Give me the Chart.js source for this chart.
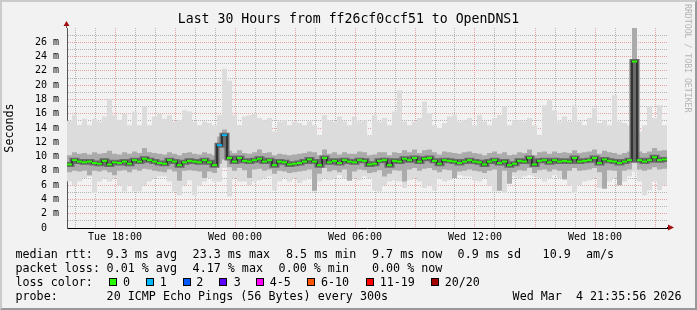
<!DOCTYPE html>
<html>
<head>
<meta charset="utf-8">
<script src="https://cdn.jsdelivr.net/npm/chart.js@4.4.1/dist/chart.umd.min.js"></script>
<style>
  html, body { margin: 0; padding: 0; background: #f2f2f2; }
  #wrap { position: relative; width: 697px; height: 310px; overflow: hidden; font-family: 'DejaVu Sans Mono', monospace; color: #000; }
  #frame { position: absolute; left: 0; top: 0; width: 697px; height: 310px; box-sizing: border-box; border: 2px solid; border-color: #cbcbcb #999 #999 #cbcbcb; pointer-events: none; }
  canvas { position: absolute; left: 0; top: 0; }
  #title { position: absolute; left: 0; top: 11px; width: 697px; text-align: center; font-size: 13.2px; line-height: 16px; white-space: pre; }
  #credit { position: absolute; left: 683px; top: 4px; writing-mode: vertical-rl; font-size: 8.2px; color: #b4b4b4; white-space: pre; }
  .t { position: absolute; white-space: pre; font-size: 11.7px; line-height: 14px; }
  .sq { position: absolute; width: 6px; height: 6px; border: 1px solid #000; top: 278px; }
</style>
</head>
<body>
<div id="wrap">
  <canvas id="chart" width="697" height="310"></canvas>
  <div id="title">Last 30 Hours from ff26cf0ccf51 to OpenDNS1</div>
  <div id="credit">RRDTOOL / TOBI OETIKER</div>

  <div class="t" style="left:15.5px;top:247px">median rtt:</div>
  <div class="t" style="left:106.6px;top:247px">9.3 ms avg</div>
  <div class="t" style="left:192.6px;top:247px">23.3 ms max</div>
  <div class="t" style="left:286px;top:247px">8.5 ms min</div>
  <div class="t" style="left:372px;top:247px">9.7 ms now</div>
  <div class="t" style="left:457.6px;top:247px">0.9 ms sd</div>
  <div class="t" style="left:542.6px;top:247px">10.9</div>
  <div class="t" style="left:586px;top:247px">am/s</div>

  <div class="t" style="left:15.5px;top:261px">packet loss:</div>
  <div class="t" style="left:106.6px;top:261px">0.01 % avg</div>
  <div class="t" style="left:192.6px;top:261px">4.17 % max</div>
  <div class="t" style="left:278.6px;top:261px">0.00 % min</div>
  <div class="t" style="left:372px;top:261px">0.00 % now</div>

  <div class="t" style="left:15.5px;top:275px">loss color:</div>
  <div id="lossLegend"></div>

  <div class="t" style="left:15.5px;top:289px">probe:</div>
  <div class="t" style="left:106.6px;top:289px">20 ICMP Echo Pings (56 Bytes) every 300s</div>
  <div class="t" style="left:512.6px;top:289px">Wed Mar  4 21:35:56 2026</div>

  <div id="frame"></div>
</div>
<script>
// time axis in hours since Tue 00:00, one value per 15 minutes
const startHour = 15.6;   // Tue 15:36
const endHour = 45.6;     // Wed 21:36
const stepHours = 0.25;

const medianMs = [
  8.9, 9.5, 9.3, 9.2, 9.3, 9.1, 9.0, 9.4, 8.9, 9.2, 9.1, 9.3, 9.0, 9.5, 9.3, 9.7, 9.5, 9.3, 9.1, 9.0,
  9.5, 9.3, 8.8, 9.2, 9.4, 9.3, 9.2, 9.5, 9.2, 8.8, 11.6, 13.0, 9.8, 9.3, 9.8, 9.4, 9.3, 9.5, 9.7, 9.3,
  9.5, 8.8, 9.3, 9.2, 8.9, 9.0, 9.1, 9.3, 9.6, 9.3, 8.8, 9.8, 9.2, 9.4, 9.1, 9.5, 9.3, 9.2, 9.5, 9.4,
  8.9, 9.0, 9.4, 9.5, 8.8, 9.4, 9.3, 9.7, 9.5, 9.8, 9.3, 9.7, 9.8, 9.4, 9.0, 9.5, 9.4, 9.3, 9.1, 9.3,
  9.5, 9.3, 9.2, 8.9, 9.3, 9.5, 9.1, 9.3, 8.8, 9.0, 9.4, 9.3, 9.8, 8.9, 9.4, 9.5, 9.2, 9.5, 9.3, 9.4,
  9.3, 9.8, 9.3, 9.4, 9.5, 9.8, 9.1, 9.6, 9.4, 9.3, 9.1, 9.3, 9.5, 23.3, 9.5, 9.3, 9.5, 9.9, 9.5, 9.6
];

// outer smoke (slowest / fastest ping)
const smokeMaxMs = [
  15.0, 15.8, 14.4, 15.3, 14.4, 15.3, 14.9, 15.6, 18.1, 15.8, 15.1, 16.0, 14.4, 16.3, 14.4, 17.0, 14.4, 15.6, 16.0, 15.3,
  15.8, 14.9, 15.1, 16.5, 16.3, 14.9, 14.4, 14.9, 14.7, 14.4, 15.8, 22.3, 20.6, 15.8, 14.4, 15.6, 15.8, 16.0, 15.4, 15.1,
  15.4, 13.5, 14.9, 15.1, 14.4, 14.9, 14.7, 14.4, 14.9, 14.4, 13.0, 15.8, 15.1, 14.9, 15.6, 14.9, 14.4, 15.6, 14.9, 15.1,
  13.0, 15.8, 14.9, 15.4, 14.4, 16.3, 19.3, 14.9, 14.4, 14.9, 15.4, 17.7, 16.1, 14.4, 14.0, 14.7, 15.6, 15.8, 14.9, 15.1,
  15.4, 14.4, 15.8, 14.9, 14.4, 15.4, 15.8, 17.0, 14.4, 15.1, 15.1, 14.9, 15.4, 14.4, 13.0, 17.2, 17.9, 16.5, 14.9, 15.6,
  14.9, 17.2, 14.9, 14.4, 15.4, 16.8, 14.7, 15.1, 14.4, 18.6, 14.9, 14.7, 14.4, 30.0, 13.5, 14.4, 17.0, 15.4, 17.2, 14.4
];
const smokeMinMs = [
  6.5, 6.0, 6.5, 7.0, 7.2, 4.9, 6.5, 7.0, 6.5, 7.0, 6.0, 5.1, 6.0, 5.1, 5.1, 6.0, 6.5, 7.0, 7.2, 7.2,
  6.5, 5.1, 4.6, 6.0, 6.7, 4.6, 6.0, 6.5, 7.0, 6.5, 6.5, 8.4, 4.4, 7.0, 6.5, 6.5, 6.0, 6.5, 6.7, 7.0,
  7.2, 5.3, 6.5, 7.0, 6.5, 7.0, 6.3, 6.7, 7.0, 5.1, 6.5, 7.0, 6.7, 7.0, 7.4, 7.0, 7.2, 7.0, 6.7, 7.2,
  7.0, 5.3, 5.1, 6.0, 6.5, 6.7, 6.5, 5.6, 6.7, 7.0, 6.5, 5.6, 6.0, 5.3, 7.0, 6.5, 6.7, 7.2, 7.4, 7.2,
  7.2, 6.7, 6.5, 7.0, 6.0, 5.1, 5.3, 4.9, 6.5, 7.2, 7.0, 7.2, 7.4, 7.2, 7.0, 6.5, 7.0, 7.4, 7.0, 7.2,
  6.0, 4.9, 6.0, 6.5, 6.7, 7.0, 5.6, 6.3, 6.5, 7.0, 6.7, 6.5, 7.2, 7.9, 6.5, 4.6, 5.3, 6.5, 5.3, 6.0
];

// denser smoke band around the median
const bandHiMs = [
  10.2, 10.6, 10.4, 10.5, 10.3, 10.6, 10.4, 10.5, 10.8, 10.4, 10.3, 10.6, 10.4, 10.7, 10.5, 11.2, 10.6, 10.5, 10.4, 10.3,
  10.6, 10.4, 10.2, 10.5, 10.6, 10.4, 10.3, 10.6, 10.4, 10.2, 12.8, 13.8, 10.8, 10.5, 10.9, 10.5, 10.4, 10.6, 11.0, 10.5,
  10.6, 10.2, 10.4, 10.3, 10.2, 10.3, 10.4, 10.5, 10.7, 10.6, 10.2, 11.0, 10.4, 10.6, 10.3, 10.6, 10.4, 10.4, 10.7, 10.6,
  10.2, 10.3, 10.6, 10.6, 10.2, 10.6, 10.5, 10.9, 10.6, 11.0, 10.5, 10.9, 11.0, 10.6, 10.3, 10.7, 10.6, 10.5, 10.4, 10.6,
  10.7, 10.5, 10.4, 10.2, 10.5, 10.7, 10.4, 10.6, 10.2, 10.3, 10.6, 10.5, 11.0, 10.2, 10.6, 10.7, 10.4, 10.7, 10.5, 10.6,
  10.5, 10.9, 10.5, 10.6, 10.7, 11.0, 10.4, 10.8, 10.6, 10.5, 10.3, 10.5, 10.7, 30.0, 10.7, 10.5, 10.7, 11.2, 10.8, 10.9
];
const bandLoMs = [
  7.8, 8.0, 7.9, 8.0, 7.4, 8.0, 7.9, 8.1, 7.8, 7.4, 8.0, 8.1, 7.8, 8.2, 8.0, 8.3, 8.2, 8.0, 7.9, 7.8,
  8.2, 7.9, 6.6, 8.0, 8.1, 8.0, 7.9, 7.0, 7.9, 7.7, 9.0, 9.6, 8.5, 8.0, 8.4, 8.1, 7.0, 8.2, 8.3, 8.0,
  8.2, 7.6, 8.0, 7.9, 7.7, 7.8, 7.9, 8.0, 8.2, 5.2, 7.6, 8.4, 7.9, 8.1, 7.8, 8.2, 6.6, 7.9, 8.2, 8.1,
  7.7, 7.8, 8.1, 7.2, 7.6, 8.1, 8.0, 6.5, 8.2, 8.4, 8.0, 8.3, 8.4, 8.1, 7.8, 8.2, 8.1, 7.0, 7.9, 8.0,
  8.2, 8.0, 7.9, 7.7, 8.0, 8.2, 5.2, 8.0, 6.2, 7.8, 8.1, 8.0, 8.4, 7.7, 8.1, 8.2, 7.9, 8.2, 8.0, 6.8,
  8.0, 8.4, 8.0, 8.1, 8.2, 8.4, 7.8, 5.5, 8.1, 8.0, 6.0, 8.0, 8.2, 9.6, 8.2, 8.0, 8.2, 8.5, 8.2, 8.3
];

// [bucket index, pings lost]; everything else lost nothing
const lostPings = [[30, 1], [31, 1]];

const lossLimits = [0, 1, 2, 3, 5, 10, 19, 20];
const lossLabels = ['0', '1', '2', '3', '4-5', '6-10', '11-19', '20/20'];
const lossColors = ['#26ff00', '#00b8ff', '#0059ff', '#5e00ff', '#ff00ff', '#ff5500', '#ff0000', '#a00000'];

const xLabelHours = [18, 24, 30, 36, 42];
const xLabelText = ['Tue 18:00', 'Wed 00:00', 'Wed 06:00', 'Wed 12:00', 'Wed 18:00'];
const yLabelMs = [0, 2, 4, 6, 8, 10, 12, 14, 16, 18, 20, 22, 24, 26];

// loss legend boxes
const legendBoxX = [108.7, 145.7, 182.7, 219.3, 256, 307.3, 365.7, 430.7];
const legendTextX = [123, 159.7, 196.3, 233.7, 269.7, 321, 379.7, 444.7];
const legendEl = document.getElementById('lossLegend');
lossLabels.forEach((label, i) => {
  const sq = document.createElement('div');
  sq.className = 'sq';
  sq.style.left = legendBoxX[i] + 'px';
  sq.style.background = lossColors[i];
  legendEl.appendChild(sq);
  const t = document.createElement('div');
  t.className = 't';
  t.style.left = legendTextX[i] + 'px';
  t.style.top = '275px';
  t.textContent = label;
  legendEl.appendChild(t);
});

const lossByBucket = new Map(lostPings);
const lossColour = i => {
  const n = lossByBucket.get(i) || 0;
  return lossColors[lossLimits.findIndex(l => n <= l)];
};

// hold each value for its 15 minutes
const steps = values => {
  const pts = values.map((v, i) => ({ x: startHour + i * stepHours, y: v }));
  pts.push({ x: endHour, y: values[values.length - 1] });
  return pts;
};

const redGrid = 'rgba(222, 80, 80, 0.5)';
const greyGrid = 'rgba(130, 130, 130, 0.55)';
const monoFont = 'DejaVu Sans Mono';

const axisArrows = {
  id: 'axisArrows',
  afterDraw(chart) {
    const { ctx, chartArea: a } = chart;
    const x = Math.round(a.left) - 0.5;
    const y = Math.round(a.bottom) - 0.5;
    ctx.save();
    ctx.lineWidth = 1;
    ctx.strokeStyle = '#555';
    ctx.beginPath();
    ctx.moveTo(x, a.top);
    ctx.lineTo(x, a.top - 3);
    ctx.stroke();
    ctx.strokeStyle = '#000';
    ctx.beginPath();
    ctx.moveTo(a.right, y);
    ctx.lineTo(a.right + 2, y);
    ctx.stroke();
    ctx.fillStyle = '#a01010';
    ctx.beginPath();
    ctx.moveTo(x - 3, a.top - 2);
    ctx.lineTo(x + 3, a.top - 2);
    ctx.lineTo(x, a.top - 7);
    ctx.closePath();
    ctx.fill();
    ctx.beginPath();
    ctx.moveTo(a.right + 1, y - 3);
    ctx.lineTo(a.right + 1, y + 3);
    ctx.lineTo(a.right + 7, y);
    ctx.closePath();
    ctx.fill();
    ctx.restore();
  }
};

new Chart(document.getElementById('chart'), {
  type: 'line',
  data: {
    datasets: [
      {
        label: 'median',
        data: medianMs.map((v, i) => ({ x: startHour + (i + 0.5) * stepHours, y: v })),
        showLine: false,
        pointStyle: 'line',
        pointRadius: 2.6,
        pointBorderWidth: 2,
        pointBorderColor: medianMs.map((v, i) => lossColour(i)),
        order: 0
      },
      {
        label: 'core',
        data: steps(medianMs),
        stepped: true,
        borderColor: '#333',
        borderWidth: 2,
        pointRadius: 0,
        order: 1
      },
      {
        label: 'core halo',
        data: steps(medianMs),
        stepped: true,
        borderColor: '#6a6a6a',
        borderWidth: 5,
        pointRadius: 0,
        order: 2
      },
      {
        label: 'band hi',
        data: steps(bandHiMs),
        stepped: true,
        borderWidth: 0,
        pointRadius: 0,
        fill: '+1',
        backgroundColor: '#ababab',
        order: 3
      },
      {
        label: 'band lo',
        data: steps(bandLoMs),
        stepped: true,
        borderWidth: 0,
        pointRadius: 0,
        fill: false,
        order: 4
      },
      {
        label: 'smoke max',
        data: steps(smokeMaxMs),
        stepped: true,
        borderWidth: 0,
        pointRadius: 0,
        fill: '+1',
        backgroundColor: '#dcdcdc',
        order: 5
      },
      {
        label: 'smoke min',
        data: steps(smokeMinMs),
        stepped: true,
        borderWidth: 0,
        pointRadius: 0,
        fill: false,
        order: 6
      }
    ]
  },
  options: {
    responsive: false,
    animation: false,
    events: [],
    layout: { padding: { left: 0, right: 30, top: 28, bottom: 62 } },
    plugins: {
      legend: { display: false },
      tooltip: { enabled: false },
      title: { display: false }
    },
    scales: {
      x: {
        type: 'linear',
        min: startHour,
        max: endHour,
        z: 1,
        afterBuildTicks: scale => {
          const ticks = [];
          for (let h = Math.ceil(startHour); h <= endHour; h++) ticks.push({ value: h });
          scale.ticks = ticks;
        },
        afterFit: scale => { scale.height = 20; },
        ticks: {
          autoSkip: false,
          maxRotation: 0,
          padding: 3,
          color: '#000',
          font: { family: monoFont, size: 10 },
          callback: v => {
            const k = xLabelHours.indexOf(v);
            return k >= 0 ? xLabelText[k] : '';
          }
        },
        grid: {
          drawTicks: false,
          color: ctx => (ctx.tick && ctx.tick.value % 3 === 0 ? redGrid : greyGrid)
        },
        border: { color: '#000', width: 1, dash: [1, 1] }
      },
      y: {
        min: 0,
        max: 28,
        z: 1,
        afterBuildTicks: scale => {
          const ticks = [];
          for (let v = 0; v < 28; v++) ticks.push({ value: v });
          scale.ticks = ticks;
        },
        afterFit: scale => { scale.width = 67; },
        ticks: {
          autoSkip: false,
          padding: 8,
          color: '#000',
          font: { family: monoFont, size: 10 },
          callback: v => (yLabelMs.includes(v) ? (v === 0 ? '0  ' : v + ' m') : '')
        },
        title: {
          display: true,
          text: 'Seconds',
          color: '#000',
          font: { family: monoFont, size: 11.7 },
          padding: { top: 3, bottom: 0 }
        },
        grid: {
          drawTicks: false,
          color: ctx => (ctx.tick && ctx.tick.value % 2 === 0 ? redGrid : greyGrid)
        },
        border: { color: '#555', width: 1, dash: [1, 1] }
      }
    }
  },
  plugins: [axisArrows]
});
</script>
</body>
</html>
